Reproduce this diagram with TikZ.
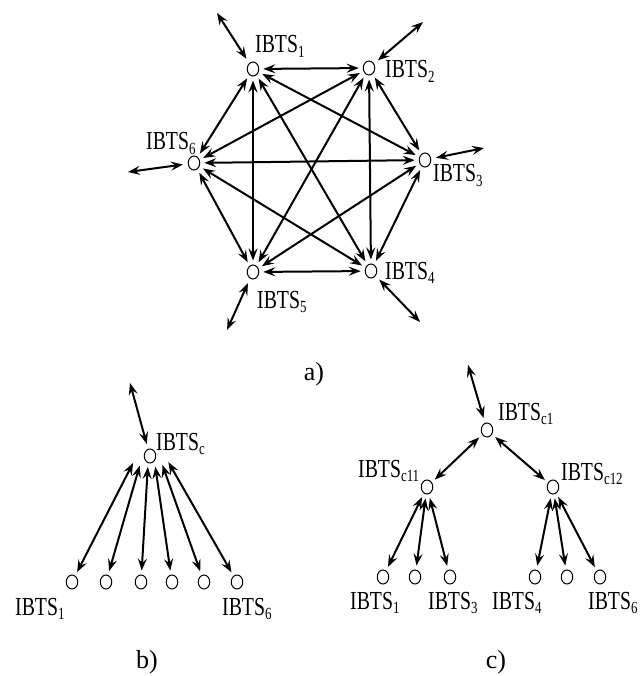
\documentclass[tikz,border=0pt]{standalone}
\usepackage{fontspec}
\setmainfont{Liberation Serif}
\newfontfamily\lblfont[FakeStretch=0.76]{Liberation Serif}
\usetikzlibrary{arrows.meta,shapes.geometric}
\newcommand\ibts[1]{IBTS\raisebox{-4.5pt}{\fontsize{17}{17}\selectfont #1}}
\tikzset{
  bts/.style={draw, ellipse, minimum width=11.5pt, minimum height=14pt, inner sep=0pt, line width=1pt},
  lnk/.style={line width=2pt, {Stealth[length=12pt,width=9pt,inset=4.5pt]}-{Stealth[length=12pt,width=9pt,inset=4.5pt]}, shorten <=4pt, shorten >=4pt},
  ext/.style={lnk, shorten <=0pt, shorten >=5pt},
  lab/.style={anchor=base west, inner sep=0pt, font=\lblfont\fontsize{26}{26}\selectfont},
  subcap/.style={anchor=base, inner sep=0pt, font=\fontsize{26}{26}\selectfont},
}
\begin{document}
\begin{tikzpicture}[x=1pt,y=-1pt]
\useasboundingbox (0,0) rectangle (641,676);
% ---------- a) ----------
\node[bts] (h1) at (253,69) {};
\node[bts] (h2) at (369,68) {};
\node[bts] (h3) at (425,160) {};
\node[bts] (h4) at (371,271) {};
\node[bts] (h5) at (253,272) {};
\node[bts] (h6) at (194,163) {};
\node[lab] (l1) at (255,53) {\ibts{1}};
\node[lab] (l2) at (385,78) {\ibts{2}};
\node[lab] (l3) at (433,182) {\ibts{3}};
\node[lab] (l4) at (385,279) {\ibts{4}};
\node[lab] (l5) at (257,308) {\ibts{5}};
\node[lab] (l6) at (146,150) {\ibts{6}};
\foreach \a/\b in {1/2,1/3,1/4,1/5,1/6,2/3,2/4,2/5,2/6,3/4,3/5,3/6,4/5,4/6,5/6}
  \draw[lnk] (h\a) -- (h\b);
\coordinate (e1) at (217,13);
\coordinate (e2) at (423,22);
\coordinate (e3) at (484,148);
\coordinate (e4) at (420,322);
\coordinate (e5) at (227,330);
\coordinate (e6) at (128,172);
\foreach \i in {1,...,6} \draw[ext] (e\i) -- (h\i);
\node[subcap] (capa) at (314,380) {a)};
% ---------- b) ----------
\node[bts] (bc) at (150,456) {};
\node[lab] (lbc) at (156,450) {\ibts{c}};
\coordinate (be) at (130,383);
\draw[ext] (be) -- (bc);
\foreach \i/\x in {1/72,2/106,3/141,4/172,5/204,6/237}
  \node[bts] (b\i) at (\x,582) {};
\foreach \i in {1,...,6}
  \draw[lnk, shorten >=37pt] (b\i) -- ([yshift=26pt]bc.center);
\node[lab] (lb1) at (15,615) {\ibts{1}};
\node[lab] (lb6) at (222,615) {\ibts{6}};
\node[subcap] (capb) at (147,668) {b)};
% ---------- c) ----------
\node[bts] (c1) at (487,430) {};
\node[bts] (c11) at (427,487) {};
\node[bts] (c12) at (553,487) {};
\node[lab] (lc1) at (498,420) {\ibts{c1}};
\node[lab] (lc11) at (358,477) {\ibts{c11}};
\node[lab] (lc12) at (561,480) {\ibts{c12}};
\coordinate (ce) at (468,365);
\draw[ext] (ce) -- (c1);
\draw[lnk] (c1) -- (c11);
\draw[lnk] (c1) -- (c12);
\foreach \i/\x in {1/383,2/415,3/450}
  \node[bts] (cl\i) at (\x,577) {};
\foreach \i/\x in {4/535,5/567,6/600}
  \node[bts] (cl\i) at (\x,577) {};
\foreach \i in {1,2,3} \draw[lnk] (cl\i) -- (c11);
\foreach \i in {4,5,6} \draw[lnk] (cl\i) -- (c12);
\node[lab] (lcl1) at (350,609) {\ibts{1}};
\node[lab] (lcl3) at (428,609) {\ibts{3}};
\node[lab] (lcl4) at (492,609) {\ibts{4}};
\node[lab] (lcl6) at (588,609) {\ibts{6}};
\node[subcap] (capc) at (496,668) {c)};
\end{tikzpicture}
\end{document}
